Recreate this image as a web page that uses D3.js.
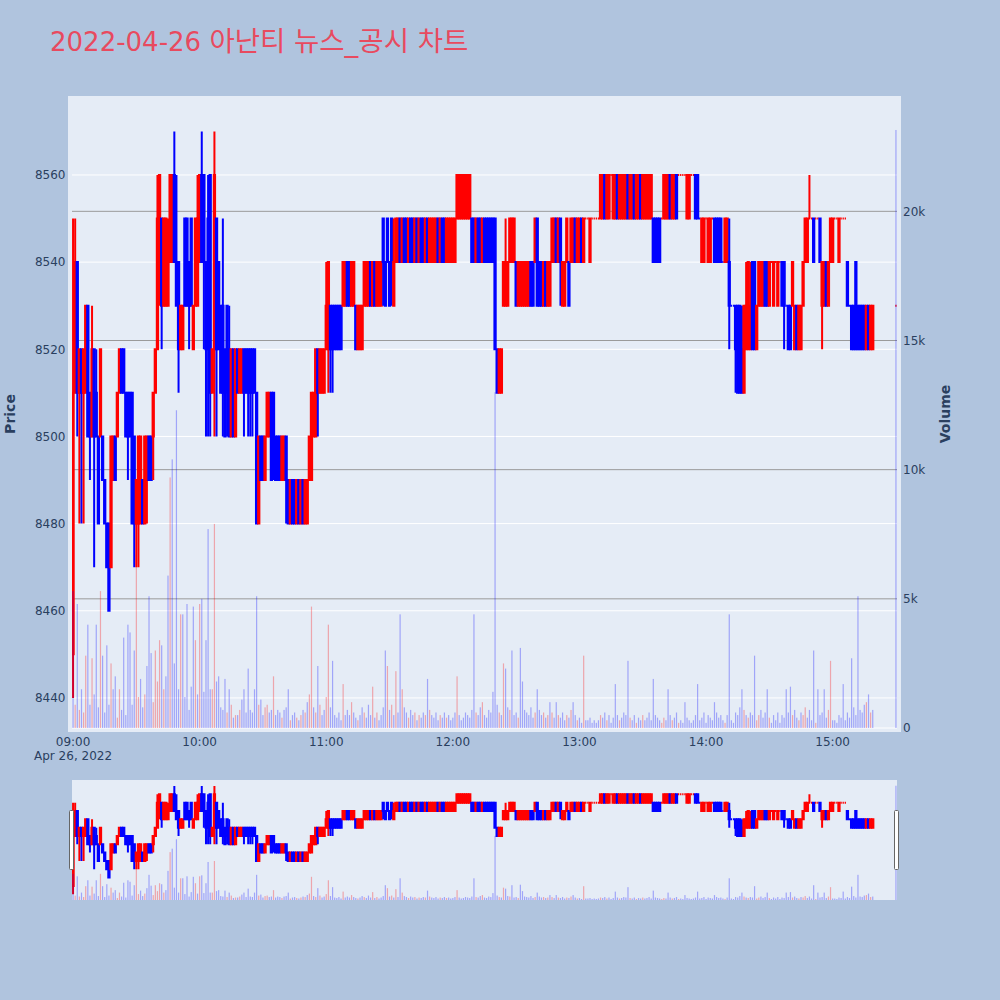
<!DOCTYPE html>
<html><head><meta charset="utf-8">
<script src="https://cdn.jsdelivr.net/npm/d3@7"></script>
<style>
body{margin:0;background:#b0c4de;}
svg{display:block;font-family:"DejaVu Sans","Noto Sans CJK KR",sans-serif;}
</style></head>
<body><svg id="chart" width="1000" height="1000"></svg>
<script>
const titleDate = "2022-04-26";
const titleName = "아난티 뉴스_공시 차트";
const priceAxisTitle = "Price";
const volumeAxisTitle = "Volume";
const sessionStart = new Date(2022, 3, 26, 9, 0);
const continuousEnd = new Date(2022, 3, 26, 15, 20);
const closingAuction = new Date(2022, 3, 26, 15, 30);
const priceTicks = [8440, 8460, 8480, 8500, 8520, 8540, 8560];
const volumeTicks = [5000, 10000, 15000, 20000];
const volumeTickLabels = ["0", "5k", "10k", "15k", "20k"];
const hourTicks = [9, 10, 11, 12, 13, 14, 15];

const open = [
8450,8510,8540,8510,8520,8510,8510,8530,8510,8500,
8520,8510,8500,8500,8500,8490,8480,8480,8470,8490,
8500,8500,8510,8520,8520,8510,8510,8510,8510,8500,
8480,8480,8480,8490,8480,8490,8500,8500,8500,8510,
8520,8540,8550,8530,8530,8530,8540,8540,8560,8540,
8540,8520,8520,8550,8550,8540,8550,8520,8530,8530,
8540,8560,8560,8540,8550,8560,8510,8520,8550,8540,
8530,8530,8520,8530,8520,8500,8520,8500,8520,8510,
8510,8520,8520,8520,8520,8520,8520,8510,8480,8500,
8500,8490,8500,8500,8510,8510,8500,8500,8500,8490,
8490,8500,8490,8480,8490,8490,8480,8490,8480,8490,
8480,8480,8490,8490,8500,8500,8520,8510,8510,8510,
8520,8520,8530,8530,8530,8530,8530,8530,8530,8530,
8540,8540,8530,8530,8530,8520,8520,8520,8530,8530,
8530,8540,8530,8540,8530,8530,8530,8550,8540,8550,
8540,8550,8530,8540,8540,8550,8540,8550,8550,8540,
8550,8550,8540,8550,8540,8550,8550,8540,8550,8540,
8540,8540,8540,8550,8540,8550,8550,8540,8540,8540,
8540,8540,8550,8550,8550,8550,8550,8550,8550,8550,
8550,8540,8550,8550,8540,8550,8550,8550,8550,8550,
8550,8520,8510,8510,8530,8530,8530,8540,8540,8540,
8540,8530,8530,8530,8530,8530,8530,8540,8540,8540,
8550,8540,8540,8530,8540,8530,8530,8540,8540,8550,
8540,8550,8530,8530,8540,8540,8540,8540,8550,8540,
8540,8550,8540,8550,8550,8540,8550,8550,8550,8550,
8550,8550,8560,8550,8550,8560,8550,8550,8560,8550,
8550,8550,8550,8560,8550,8550,8560,8550,8550,8560,
8550,8550,8550,8550,8550,8550,8550,8550,8550,8550,
8550,8550,8550,8560,8550,8550,8560,8560,8560,8560,
8560,8550,8550,8560,8560,8560,8560,8550,8540,8540,
8550,8540,8540,8550,8550,8550,8550,8550,8540,8540,
8540,8540,8530,8530,8530,8530,8530,8520,8510,8520,
8520,8520,8540,8540,8520,8530,8530,8530,8540,8540,
8530,8540,8530,8540,8530,8540,8540,8540,8530,8530,
8530,8530,8520,8530,8520,8520,8530,8540,8540,8550,
8550,8550,8550,8550,8550,8530,8530,8540,8530,8540,
8540,8550,8550,8540,8550,8550,8550,8540,8530,8530,
8530,8540,8530,8530,8530,8530,8520,8530,8520,8520,
8530];
const high = [
8550,8550,8540,8520,8520,8520,8530,8530,8510,8530,
8520,8520,8500,8520,8500,8490,8480,8480,8500,8500,
8500,8510,8520,8520,8520,8510,8510,8510,8510,8500,
8490,8500,8500,8490,8500,8500,8500,8500,8510,8520,
8560,8560,8550,8550,8550,8550,8560,8560,8570,8560,
8540,8530,8530,8550,8550,8540,8550,8530,8550,8560,
8560,8570,8560,8540,8560,8560,8520,8570,8550,8540,
8530,8550,8520,8530,8530,8520,8520,8520,8520,8520,
8520,8520,8520,8520,8520,8520,8520,8510,8500,8500,
8500,8500,8510,8510,8510,8510,8500,8500,8500,8500,
8500,8500,8490,8490,8490,8490,8490,8490,8490,8490,
8490,8490,8500,8510,8510,8520,8520,8520,8520,8520,
8540,8540,8530,8530,8530,8530,8530,8530,8540,8540,
8540,8540,8540,8540,8530,8530,8530,8530,8540,8540,
8540,8540,8540,8540,8540,8540,8540,8550,8540,8550,
8540,8550,8550,8550,8550,8550,8550,8550,8550,8550,
8550,8550,8550,8550,8550,8550,8550,8550,8550,8550,
8550,8550,8550,8550,8550,8550,8550,8550,8550,8550,
8550,8550,8560,8560,8560,8560,8560,8560,8560,8550,
8550,8550,8550,8550,8550,8550,8550,8550,8550,8550,
8550,8520,8520,8520,8540,8550,8540,8550,8550,8550,
8540,8540,8540,8540,8540,8540,8540,8540,8540,8550,
8550,8540,8540,8540,8540,8540,8540,8550,8550,8550,
8550,8550,8540,8540,8550,8540,8550,8550,8550,8550,
8550,8550,8550,8550,8550,8550,8550,8550,8550,8550,
8560,8560,8560,8560,8560,8560,8560,8560,8560,8560,
8560,8560,8560,8560,8560,8560,8560,8560,8560,8560,
8560,8560,8560,8560,8560,8550,8550,8550,8550,8550,
8560,8560,8560,8560,8560,8560,8560,8560,8560,8560,
8560,8560,8560,8560,8560,8560,8560,8550,8550,8550,
8550,8550,8550,8550,8550,8550,8550,8550,8540,8550,
8550,8550,8530,8530,8530,8530,8530,8530,8530,8540,
8540,8540,8540,8540,8530,8540,8540,8540,8540,8540,
8540,8540,8540,8540,8540,8540,8540,8540,8530,8530,
8530,8540,8530,8530,8530,8530,8540,8550,8550,8560,
8550,8550,8550,8550,8550,8540,8540,8540,8540,8550,
8550,8550,8550,8550,8550,8550,8550,8540,8530,8530,
8530,8540,8530,8530,8530,8530,8530,8530,8530,8530,
8530];
const low = [
8440,8510,8500,8480,8480,8480,8510,8500,8490,8500,
8470,8500,8480,8500,8490,8480,8470,8460,8470,8490,
8490,8500,8510,8510,8510,8500,8490,8500,8480,8470,
8470,8470,8480,8480,8480,8480,8490,8490,8490,8510,
8520,8530,8520,8530,8530,8530,8540,8540,8540,8530,
8510,8520,8520,8530,8530,8520,8530,8520,8530,8530,
8540,8540,8520,8500,8500,8500,8510,8500,8500,8520,
8510,8500,8500,8500,8500,8500,8500,8500,8510,8510,
8510,8500,8510,8500,8500,8500,8510,8480,8480,8490,
8490,8490,8500,8500,8490,8490,8490,8490,8490,8490,
8490,8480,8480,8480,8480,8480,8480,8480,8480,8480,
8480,8480,8490,8490,8500,8500,8500,8510,8510,8510,
8520,8510,8510,8510,8520,8520,8520,8520,8530,8530,
8530,8530,8530,8530,8520,8520,8520,8520,8530,8530,
8530,8530,8530,8530,8530,8530,8530,8530,8530,8540,
8530,8530,8530,8540,8540,8540,8540,8540,8540,8540,
8540,8540,8540,8540,8540,8540,8540,8540,8540,8540,
8540,8540,8540,8540,8540,8540,8540,8540,8540,8540,
8540,8540,8550,8550,8550,8550,8550,8550,8550,8540,
8540,8540,8540,8540,8540,8540,8540,8540,8540,8540,
8520,8510,8510,8510,8530,8530,8530,8540,8540,8540,
8530,8530,8530,8530,8530,8530,8530,8530,8530,8540,
8530,8530,8530,8530,8530,8530,8530,8540,8540,8540,
8540,8530,8530,8530,8540,8530,8540,8540,8540,8540,
8540,8540,8540,8550,8550,8540,8550,8550,8550,8550,
8550,8550,8550,8550,8550,8560,8550,8550,8550,8550,
8550,8550,8550,8550,8550,8550,8550,8550,8550,8550,
8550,8550,8550,8550,8550,8540,8540,8540,8540,8550,
8550,8550,8550,8550,8550,8550,8550,8560,8560,8560,
8560,8550,8550,8560,8560,8550,8550,8550,8540,8540,
8550,8540,8540,8550,8540,8540,8540,8540,8540,8540,
8540,8520,8530,8530,8510,8510,8510,8510,8510,8520,
8520,8520,8520,8520,8520,8530,8530,8530,8530,8530,
8530,8540,8530,8540,8530,8540,8530,8520,8530,8520,
8520,8530,8520,8520,8520,8520,8530,8540,8540,8550,
8550,8540,8550,8550,8540,8520,8530,8530,8530,8540,
8540,8550,8550,8540,8550,8550,8550,8530,8530,8520,
8520,8520,8520,8520,8520,8520,8520,8520,8520,8520,
8530];
const close = [
8510,8540,8510,8520,8510,8520,8530,8500,8500,8520,
8500,8500,8480,8520,8490,8480,8470,8460,8500,8500,
8490,8510,8520,8510,8510,8500,8500,8500,8480,8480,
8490,8500,8500,8480,8500,8500,8490,8490,8510,8520,
8550,8560,8530,8550,8550,8540,8560,8560,8540,8530,
8520,8530,8530,8530,8530,8530,8530,8530,8550,8550,
8560,8540,8540,8520,8520,8510,8520,8560,8520,8520,
8510,8510,8500,8510,8500,8520,8500,8520,8510,8520,
8520,8510,8510,8510,8510,8510,8510,8480,8500,8490,
8490,8500,8510,8510,8490,8500,8490,8490,8490,8500,
8500,8490,8480,8490,8480,8480,8490,8480,8490,8480,
8490,8490,8500,8510,8510,8520,8510,8520,8520,8520,
8530,8540,8520,8520,8520,8520,8520,8520,8540,8540,
8530,8530,8540,8540,8520,8530,8530,8530,8540,8540,
8540,8530,8540,8530,8540,8540,8540,8540,8530,8540,
8530,8540,8540,8550,8550,8540,8550,8540,8540,8550,
8540,8540,8550,8540,8550,8540,8540,8550,8540,8550,
8550,8550,8550,8540,8550,8540,8540,8550,8550,8550,
8550,8550,8560,8560,8560,8560,8560,8560,8560,8540,
8540,8550,8540,8540,8550,8540,8540,8540,8540,8540,
8520,8510,8520,8520,8540,8540,8540,8550,8550,8550,
8530,8540,8540,8540,8540,8540,8540,8530,8530,8550,
8530,8530,8530,8540,8530,8540,8540,8550,8550,8540,
8550,8540,8540,8540,8550,8530,8550,8550,8540,8550,
8550,8540,8550,8550,8550,8550,8550,8550,8550,8550,
8560,8560,8550,8560,8560,8560,8560,8560,8550,8560,
8560,8560,8560,8550,8560,8560,8550,8560,8560,8550,
8560,8560,8560,8560,8560,8540,8540,8540,8540,8550,
8560,8560,8560,8550,8560,8560,8550,8560,8560,8560,
8560,8560,8560,8560,8560,8550,8550,8550,8550,8550,
8550,8550,8550,8550,8540,8540,8540,8540,8540,8550,
8550,8530,8530,8530,8520,8510,8510,8510,8530,8530,
8540,8530,8520,8520,8530,8540,8540,8540,8530,8530,
8540,8540,8540,8540,8540,8540,8530,8530,8530,8520,
8520,8540,8530,8520,8530,8530,8540,8550,8550,8550,
8550,8540,8550,8550,8540,8540,8540,8530,8540,8550,
8550,8550,8550,8550,8550,8550,8550,8530,8530,8520,
8520,8520,8520,8520,8520,8520,8530,8520,8530,8530,
8530];
const volume = [
5300,900,4800,700,1500,600,2800,4000,900,2700,
1300,4000,800,5300,2800,600,3200,900,2500,1500,
2000,400,1500,700,3500,500,4000,3700,900,3000,
6700,1200,1900,800,1300,2400,5100,2900,1000,3000,
1800,3400,3200,1500,2000,5900,9700,10400,2500,12300,
1500,4400,4400,1200,4800,700,1600,4700,3400,1300,
4800,5000,1400,3400,7700,1500,1500,7900,1800,2000,
800,700,1900,600,1500,900,400,500,500,700,
1100,1500,600,2300,700,600,1500,5100,900,1100,
500,800,900,600,700,2000,500,700,600,400,
700,800,1500,300,500,600,400,300,500,700,
600,1000,1300,4700,800,600,2400,900,500,700,
1200,4000,800,2600,500,400,600,300,1700,500,
700,500,1000,600,400,300,500,800,600,400,
900,500,1600,400,600,300,500,800,3000,2400,
700,900,500,2200,600,4400,1500,800,600,400,
700,500,600,300,500,400,600,500,1900,700,
500,400,600,300,500,400,600,400,500,300,
400,600,2000,500,300,400,600,500,400,700,
4400,600,500,800,1000,500,400,700,600,1400,
13000,900,600,500,2500,2300,800,700,3000,500,
600,400,3100,1800,700,600,500,800,400,600,
1500,700,500,600,400,500,1000,600,400,1000,
500,400,600,300,500,400,700,1000,500,300,
400,200,2800,300,300,400,200,300,200,300,
500,400,600,300,500,200,400,1700,500,300,
400,600,500,2600,400,300,500,200,400,300,
500,300,400,600,300,1900,500,400,300,200,
400,300,1500,500,300,400,600,200,300,200,
1000,400,300,200,300,500,1700,300,400,600,
200,500,400,300,1000,600,400,500,300,200,
500,4400,300,200,600,500,800,1500,700,500,
400,600,500,2800,300,500,700,400,600,1500,
400,200,500,300,600,200,500,400,1500,600,
1600,500,700,400,300,600,500,800,400,700,
300,3000,200,1500,500,600,1500,400,700,2600,
300,300,200,500,400,1700,300,600,400,2700,
800,500,5100,700,600,900,1000,1300,600,700,
23150];

// ---- build records ----
const times = d3.timeMinute.range(sessionStart, continuousEnd).concat([closingAuction]);
const UP = "#ff0000", DOWN = "#0000ff";
let incState = true, prevClose = null;
const candles = times.map((t, i) => {
  const o = open[i], c = close[i];
  if (c === o) { if (prevClose !== null && c !== prevClose) incState = c > prevClose; }
  else incState = c > o;
  const volUp = prevClose !== null && c > prevClose;
  prevClose = c;
  return {t, o, h: high[i], l: low[i], c, v: volume[i], color: incState ? UP : DOWN, vcolor: volUp ? UP : DOWN};
});

const svg = d3.select("#chart");
const inner = {x0: 72, x1: 897, y0: 100, y1: 728};
const slider = {x0: 72, x1: 897, y0: 780, y1: 900};
const pad = 30 * 1000;
const xDomain = [new Date(+sessionStart - pad), new Date(+closingAuction + pad)];
const x = d3.scaleTime().domain(xDomain).range([inner.x0, inner.x1]);
const priceDomain = [8433.1, 8577.2];
const volDomain = [0, 24310];
const yP = d3.scaleLinear().domain(priceDomain).range([inner.y1, inner.y0]);
const yV = d3.scaleLinear().domain(volDomain).range([inner.y1, inner.y0]);
const xS = d3.scaleTime().domain(xDomain).range([slider.x0, slider.x1]);
const yPS = d3.scaleLinear().domain(priceDomain).range([slider.y1, slider.y0]);
const yVS = d3.scaleLinear().domain(volDomain).range([slider.y1, slider.y0]);

// title
const title = svg.append("text").attr("x", 50).attr("y", 51).attr("font-size", 26).attr("fill", "#e84a5f");
title.append("tspan").text(titleDate + " ");
title.append("tspan").attr("font-size", 27.5).text(titleName);

// plot background
svg.append("rect").attr("x", 68).attr("y", 96).attr("width", 833).attr("height", 636).attr("fill", "#e5ecf6");

// gridlines
const grid = svg.append("g");
grid.selectAll(".pg").data(priceTicks).join("line")
  .attr("x1", inner.x0).attr("x2", inner.x1)
  .attr("y1", d => yP(d)).attr("y2", d => yP(d))
  .attr("stroke", "#ffffff").attr("stroke-width", 1);
grid.selectAll(".vg").data(volumeTicks).join("line")
  .attr("x1", inner.x0).attr("x2", inner.x1)
  .attr("y1", d => yV(d)).attr("y2", d => yV(d))
  .attr("stroke", "#9a9a9a").attr("stroke-width", 1);
grid.append("line").attr("x1", inner.x0).attr("x2", inner.x1)
  .attr("y1", yV(0)).attr("y2", yV(0)).attr("stroke", "#ffffff").attr("stroke-width", 1);

// clip paths
const defs = svg.append("defs");
defs.append("clipPath").attr("id", "mainClip").append("rect")
  .attr("x", inner.x0).attr("y", inner.y0).attr("width", inner.x1 - inner.x0).attr("height", inner.y1 - inner.y0);
defs.append("clipPath").attr("id", "sliderClip").append("rect")
  .attr("x", slider.x0).attr("y", slider.y0).attr("width", slider.x1 - slider.x0).attr("height", slider.y1 - slider.y0);

function drawCandles(g, xs, ys) {
  const half = 0.65;
  g.selectAll("path.candle").data(candles).join("path").attr("class", "candle")
    .attr("d", d => {
      const cx = xs(d.t);
      const yo = ys(d.o), yc = ys(d.c);
      const top = Math.min(yo, yc), bot = Math.max(yo, yc);
      return `M${cx - half},${top}H${cx + half}V${bot}H${cx - half}Z` +
             `M${cx},${top}V${ys(d.h)}M${cx},${bot}V${ys(d.l)}`;
    })
    .attr("fill", d => d.color).attr("stroke", d => d.color).attr("stroke-width", 2);
}
function drawVolume(g, xs, ys) {
  const bw = 1.2;
  g.selectAll("rect.vol").data(candles).join("rect").attr("class", "vol")
    .attr("x", d => xs(d.t) - bw / 2).attr("width", bw)
    .attr("y", d => ys(d.v)).attr("height", d => ys(0) - ys(d.v))
    .attr("fill", d => d.vcolor).attr("fill-opacity", 0.3);
}

const mainG = svg.append("g").attr("clip-path", "url(#mainClip)");
drawCandles(mainG.append("g"), x, yP);
drawVolume(mainG.append("g"), x, yV);

// axes labels
const axisColor = "#2a3f5f";
svg.append("g").selectAll("text").data(priceTicks).join("text")
  .attr("x", 65.5).attr("y", d => yP(d) + 4.3).attr("text-anchor", "end")
  .attr("font-size", 12).attr("fill", axisColor).text(d => d);
svg.append("g").selectAll("text").data([0].concat(volumeTicks)).join("text")
  .attr("x", 903).attr("y", d => yV(d) + 4.3).attr("text-anchor", "start")
  .attr("font-size", 12).attr("fill", axisColor).text((d, i) => volumeTickLabels[i]);
const hourDates = hourTicks.map(h => new Date(2022, 3, 26, h, 0));
svg.append("g").selectAll("text").data(hourDates).join("text")
  .attr("x", d => x(d)).attr("y", 746).attr("text-anchor", "middle")
  .attr("font-size", 12).attr("fill", axisColor).text(d3.timeFormat("%H:%M"));
svg.append("text").attr("x", x(sessionStart)).attr("y", 760).attr("text-anchor", "middle")
  .attr("font-size", 12).attr("fill", axisColor).text(d3.timeFormat("%b %-d, %Y")(sessionStart));

svg.append("text").attr("transform", "translate(15,414) rotate(-90)").attr("text-anchor", "middle")
  .attr("font-size", 14).attr("font-weight", "bold").attr("fill", axisColor).text(priceAxisTitle);
svg.append("text").attr("transform", "translate(950,414) rotate(-90)").attr("text-anchor", "middle")
  .attr("font-size", 14).attr("font-weight", "bold").attr("fill", axisColor).text(volumeAxisTitle);

// range slider
svg.append("rect").attr("x", slider.x0).attr("y", slider.y0)
  .attr("width", slider.x1 - slider.x0).attr("height", slider.y1 - slider.y0).attr("fill", "#e5ecf6");
const sG = svg.append("g").attr("clip-path", "url(#sliderClip)");
drawCandles(sG.append("g"), xS, yPS);
drawVolume(sG.append("g"), xS, yVS);
[slider.x0 - 2, slider.x1 - 2].forEach(hx => {
  svg.append("rect").attr("x", hx - 0.5).attr("y", 810.5).attr("width", 4).attr("height", 59)
    .attr("rx", 1).attr("fill", "#ffffff").attr("stroke", "#666666").attr("stroke-width", 1);
});
</script></body></html>
